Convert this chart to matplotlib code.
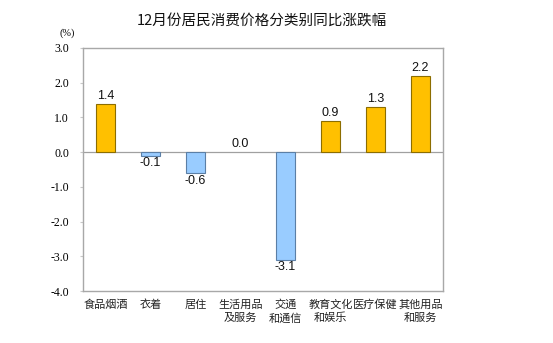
import matplotlib
matplotlib.use("Agg")
import matplotlib.pyplot as plt

categories = ["食品烟酒", "衣着", "居住", "生活用品\n及服务", "交通\n和通信",
              "教育文化\n和娱乐", "医疗保健", "其他用品\n和服务"]
values = [1.4, -0.1, -0.6, 0.0, -3.1, 0.9, 1.3, 2.2]
yticks = [3.0, 2.0, 1.0, 0.0, -1.0, -2.0, -3.0, -4.0]

plt.rcParams['font.family'] = ['Noto Sans CJK SC', 'DejaVu Sans']

fig = plt.figure(figsize=(5.53, 3.43), dpi=100)
ax = fig.add_axes([83 / 553, 1 - 291 / 343, 360 / 553, 243 / 343])

pos_face, pos_edge = '#FFC000', '#8C6D00'
neg_face, neg_edge = '#99CCFF', '#5B7FA6'
x = list(range(len(values)))
faces = [pos_face if v >= 0 else neg_face for v in values]
# a zero-height bar would only show its outline, so leave it blank
edges = ['none' if v == 0 else (pos_edge if v > 0 else neg_edge) for v in values]
ax.bar(x, values, width=0.42, color=faces, edgecolor=edges, linewidth=0.8, zorder=3)

for xi, v in zip(x, values):
    if v >= 0:
        ax.text(xi, v + 0.05, f"{v:.1f}", ha='center', va='bottom', fontsize=9,
                family='Liberation Sans', color='#111111')
    else:
        ax.text(xi, v - 0.05, f"{v:.1f}", ha='center', va='top', fontsize=9,
                family='Liberation Sans', color='#111111')

ax.axhline(0, color='#A0A0A0', linewidth=0.9, zorder=2)
ax.set_xlim(-0.5, len(values) - 0.5)
ax.set_ylim(-4.0, 3.0)
ax.set_yticks(yticks)
ax.set_yticklabels([f"{t:.1f}" for t in yticks], family='Liberation Serif', fontsize=8.5)
ax.tick_params(axis='y', length=2, color='#C8C8C8', pad=8)
ax.set_xticks(x)
ax.set_xticklabels(categories, fontsize=8, linespacing=1.35, color='#222222')
ax.tick_params(axis='x', length=0, pad=6)
for s in ax.spines.values():
    s.set_color('#A8A8A8')
    s.set_linewidth(1.0)

fig.text(262 / 553, 1 - 21 / 343, "12月份居民消费价格分类别同比涨跌幅", ha='center', va='center',
         fontsize=10.5, color='#111111')
fig.text(67 / 553, 1 - 33 / 343, "(%)", ha='center', va='center', fontsize=7.5,
         family='Liberation Serif')

fig.savefig("out.png", dpi=100)
